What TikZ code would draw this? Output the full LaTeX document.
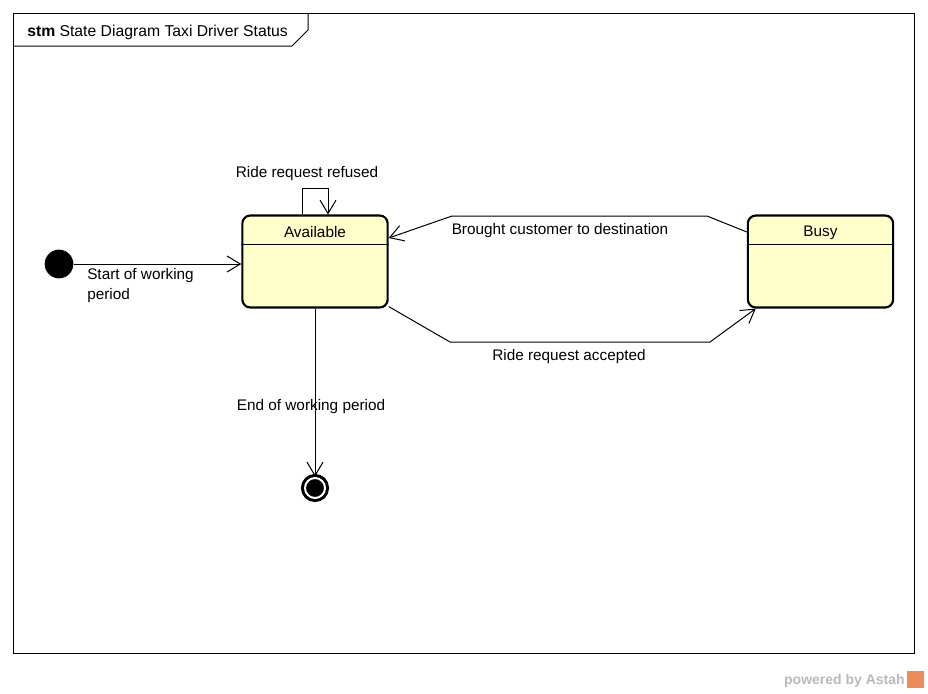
\documentclass[tikz,border=0pt]{standalone}
\usepackage{fontspec}
\setmainfont{Liberation Sans}
\usetikzlibrary{arrows.meta, positioning}
\definecolor{statefill}{RGB}{255,255,204}
\definecolor{astahorange}{RGB}{236,140,90}
\tikzset{
x=0.75pt, y=-0.75pt, % one unit is one pixel of the screenshot
>={Straight Barb[length=10pt,width=12pt]}, % open arrow heads
every node/.style={font=\fontsize{11.5}{15}\selectfont},
state/.style={draw, line width=1.6pt, rounded corners=6pt, fill=statefill,
  minimum width=109pt, minimum height=69pt, inner sep=0pt}, % the state boxes
statename/.style={anchor=north, inner sep=0pt, yshift=-8.5pt},
trans/.style={->, line width=0.75pt}, % transitions
lbl/.style={inner sep=0pt}, % transition labels
startdot/.style={circle, fill=black, minimum size=21.5pt, inner sep=0pt},
enddot/.style={circle, fill=black, draw=black, double=white, line width=2.25pt,
  double distance=1.5pt, minimum size=15pt, inner sep=0pt}, % ring with a white gap
}
\begin{document}
\begin{tikzpicture}
  \useasboundingbox (0,0) rectangle (928,693);
  % frame
  \draw[line width=0.75pt] (13,13) rectangle (914,653);
  \draw[line width=0.75pt] (13,46) -- (292,46) -- (308,30) -- (308,13);
  \node[anchor=west, inner sep=0pt, font=\fontsize{11.8}{15}\selectfont] (title) at (27,32) {\textbf{stm} State Diagram Taxi Driver Status};

  \node[startdot] (start) at (59,264) {};
  \node[state] (avail) at (315,261.5) {};
  \node[statename] at (avail.north) {Available};
  \node[state] (busy) at (820.5,261.5) {};
  \node[statename] at (busy.north) {Busy};
  \node[enddot] (stop) at (315,488) {};

  \draw[line width=0.75pt] (avail.west |- 0,244) -- (avail.east |- 0,244);
  \draw[line width=0.75pt] (busy.west |- 0,244) -- (busy.east |- 0,244);

  \draw[trans] (start) -- (start -| avail.west);
  \draw[trans] ([xshift=-9.75pt]avail.north) -- ++(0,-26) -| ([xshift=9.75pt]avail.north);
  \draw[trans] (busy.west |- 0,232) -- (707,216) -- (452,216) -- (avail.east |- 0,238);
  \draw[trans] ([yshift=1.5pt]avail.south east) -- (450,342) -- (710,342) -- ([xshift=6.75pt]busy.south west);
  \draw[trans] (avail.south) -- (stop.north);

  \node[lbl, anchor=north west, align=left] (startlbl) at (87,268.5) {Start of working\\period};
  \node[lbl] (refusedlbl) at (307,174) {Ride request refused};
  \node[lbl] (broughtlbl) at (560,231) {Brought customer to destination};
  \node[lbl] (acceptedlbl) at (569,357) {Ride request accepted};
  \node[lbl] (endlbl) at (311,407) {End of working period};

  % watermark
  \node[anchor=east, inner sep=0pt, text=gray!55, font=\fontsize{10.5}{12}\bfseries] (powered) at (905,681) {powered by Astah};
  \fill[astahorange] (907,671) rectangle (924,688);
\end{tikzpicture}
\end{document}
